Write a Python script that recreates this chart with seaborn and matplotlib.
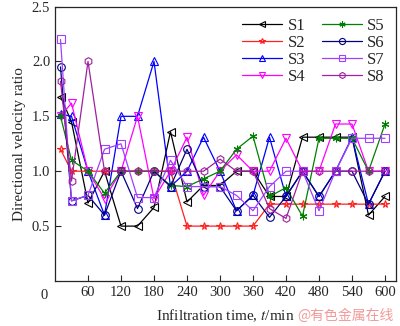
import matplotlib
matplotlib.use("Agg")
import matplotlib.pyplot as plt
import seaborn as sns
import pandas as pd

times = [10, 30, 60, 90, 120, 150, 180, 210, 240, 270, 300, 330, 360, 390, 420, 450, 480, 510, 540, 570, 600]
S1 = [1.68, 1.45, 0.71, 1.0, 0.5, 0.5, 0.67, 1.36, 0.72, 0.87, 0.87, 1.0, 1.0, 0.77, 0.77, 1.31, 1.31, 1.31, 1.31, 0.6, 0.77]
S2 = [1.2, 1.0, 1.0, 1.0, 1.0, 1.0, 1.0, 1.0, 0.5, 0.5, 0.5, 0.5, 0.5, 0.7, 0.7, 0.7, 0.7, 0.7, 0.7, 0.7, 0.7]
S3 = [1.52, 1.5, 1.0, 0.6, 1.5, 1.5, 2.0, 0.86, 1.0, 1.31, 1.0, 0.64, 0.78, 1.31, 0.77, 1.0, 0.77, 1.0, 1.31, 0.7, 1.0]
S4 = [1.5, 1.62, 1.0, 0.75, 1.0, 1.5, 0.75, 1.0, 1.31, 0.78, 1.0, 1.15, 1.0, 1.0, 1.3, 1.0, 1.0, 1.43, 1.43, 1.0, 1.0]
S5 = [1.5, 1.1, 1.0, 0.8, 1.0, 1.0, 1.0, 0.87, 0.86, 0.93, 1.0, 1.2, 1.32, 0.77, 0.85, 0.59, 1.3, 1.3, 1.3, 1.0, 1.43]
S6 = [1.95, 0.73, 0.78, 0.6, 1.0, 0.66, 1.0, 0.86, 1.2, 0.86, 0.86, 0.64, 0.78, 0.58, 0.77, 1.0, 0.77, 1.0, 1.0, 0.7, 1.0]
S7 = [2.2, 0.73, 0.78, 1.2, 1.25, 0.76, 0.76, 1.1, 0.86, 0.86, 0.86, 0.78, 0.64, 0.86, 1.0, 1.0, 0.64, 1.0, 1.3, 1.3, 1.3]
S8 = [1.82, 0.91, 2.0, 1.0, 1.0, 1.0, 1.0, 1.0, 1.0, 1.0, 1.11, 1.0, 1.0, 0.66, 0.57, 1.0, 1.0, 1.0, 1.0, 1.0, 1.0]

names = ["S1", "S2", "S3", "S4", "S5", "S6", "S7", "S8"]
series = [S1, S2, S3, S4, S5, S6, S7, S8]
x_ticks = [60, 120, 180, 240, 300, 360, 420, 480, 540, 600]
y_ticks = [0.5, 1.0, 1.5, 2.0, 2.5]

colors = ["#000000", "#ff2020", "#0000ff", "#ff00ff", "#008000", "#000080", "#a040ff", "#a020a0"]
markers = ["<", "*", "^", "v", (6, 2, 0), "o", "s", "h"]

rows = []
for n, s in zip(names, series):
    for t, v in zip(times, s):
        rows.append({"time": t, "ratio": v, "series": n})
df = pd.DataFrame(rows)

sns.set_style("ticks")
plt.rcParams["font.family"] = ["Liberation Serif", "DejaVu Serif"]
plt.rcParams["mathtext.fontset"] = "stix"

fig = plt.figure(figsize=(4.0, 3.26), dpi=100)
ax = fig.add_axes([0.1375, 0.138, 0.8525, 0.842])

for n, c, m in zip(names, colors, markers):
    sub = df[df["series"] == n]
    sns.lineplot(data=sub, x="time", y="ratio", ax=ax, color=c, marker=m,
                 markersize=5.5, markerfacecolor="none", markeredgecolor=c,
                 markeredgewidth=0.8, linewidth=0.9, label=n, legend=False,
                 errorbar=None)

ax.set_xlim(0, 620)
ax.set_ylim(0, 2.5)
ax.set_xticks(x_ticks)
ax.set_xticklabels([str(v) for v in x_ticks])
ax.set_yticks(y_ticks)
ax.set_yticklabels([f"{v:.1f}" for v in y_ticks])
ax.tick_params(direction="in", length=4, width=0.8, labelsize=10.5)
for sp in ax.spines.values():
    sp.set_linewidth(0.9)
ax.text(-0.02, -0.03, "0", transform=ax.transAxes, ha="right", va="top", fontsize=10.5)

ax.set_xlabel("Infiltration time, $t$/min", fontsize=11, labelpad=6)
ax.set_ylabel("Directional velocity ratio", fontsize=11, labelpad=4)

handles, labels = ax.get_legend_handles_labels()
ax.legend(handles, labels, ncol=2, loc="upper right", frameon=False,
          fontsize=12, handlelength=2.4, handletextpad=0.3, columnspacing=1.0,
          labelspacing=0.05, borderaxespad=0.3, markerscale=0.8)

fig.text(0.985, 0.01, "@有色金属在线", ha="right", va="bottom", fontsize=10,
         color="#f08080", alpha=0.8, family=["Noto Sans CJK SC", "DejaVu Sans"])

fig.savefig("out.png", dpi=100)
